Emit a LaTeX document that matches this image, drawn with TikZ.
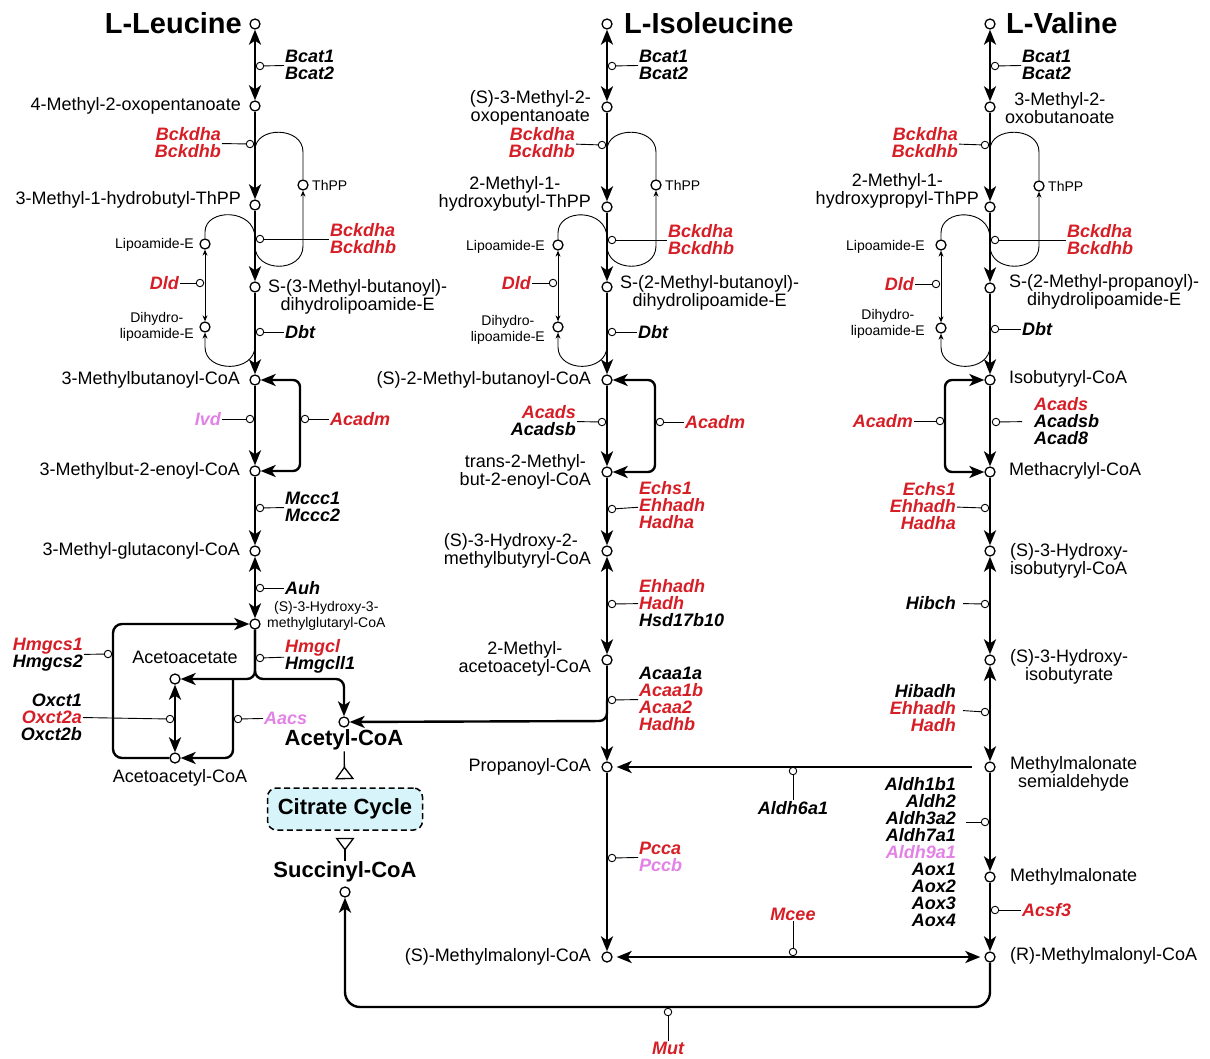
\documentclass[tikz,border=0pt]{standalone}
\usepackage{fontspec}
\setmainfont{Liberation Sans}
\usetikzlibrary{arrows.meta}
\definecolor{gred}{RGB}{214,30,38}
\definecolor{gpink}{RGB}{226,130,230}
\definecolor{cycfill}{RGB}{214,244,250}
\newcommand{\gr}[1]{\textcolor{gred}{#1}}
\newcommand{\gp}[1]{\textcolor{gpink}{#1}}
\begin{document}
\begin{tikzpicture}[x=1pt,y=-1pt,
  >={Stealth[length=15pt,width=12pt,inset=4pt]},
  met/.style={circle,draw,line width=1.3pt,minimum size=10pt,inner sep=0pt,fill=white},
  enz/.style={circle,draw,line width=0.9pt,minimum size=7.5pt,inner sep=0pt,fill=white},
  mtxt/.style={font=\fontsize{18}{17.5}\selectfont,inner sep=1pt},
  stxt/.style={font=\fontsize{14}{16}\selectfont,inner sep=1pt},
  gtxt/.style={font=\fontsize{18}{17}\selectfont\bfseries\itshape,inner sep=1pt},
  ttl/.style={font=\fontsize{29}{30}\selectfont\bfseries,inner sep=0pt},
  btxt/.style={font=\fontsize{22}{24}\selectfont\bfseries,inner sep=1pt},
  rx/.style={line width=2.4pt,->},
  rxx/.style={line width=2.4pt,<->},
  link/.style={line width=0.9pt},
  thinar/.style={line width=0.9pt,-{Stealth[length=6pt,width=5pt]}},
  thinarr/.style={line width=0.9pt,{Stealth[length=6pt,width=5pt]}-{Stealth[length=6pt,width=5pt]}},
  tri/.style={line width=1.3pt,-{Triangle[open,reversed,length=13pt,width=19pt]}},
]
\useasboundingbox (0,0) rectangle (1210,1059);

% ================= L-Leucine column =================
\node[met] (leu) at (255,24) {};
\node[ttl,anchor=east] (leuT) at (242,23) {L-Leucine};
\node[met] (l2) at (255,106) {};
\node[mtxt,anchor=east] (l2T) at (242,106) {4-Methyl-2-oxopentanoate};
\node[met] (l3) at (255,205) {};
\node[mtxt,anchor=east] (l3T) at (242,200) {3-Methyl-1-hydrobutyl-ThPP};
\node[met] (l4) at (255,287) {};
\node[mtxt,anchor=west,align=center] (l4T) at (267,297) {S-(3-Methyl-butanoyl)-\\dihydrolipoamide-E};
\node[met] (l5) at (255,380) {};
\node[mtxt,anchor=east] (l5T) at (241,380) {3-Methylbutanoyl-CoA};
\node[met] (l6) at (255,471) {};
\node[mtxt,anchor=east] (l6T) at (241,471) {3-Methylbut-2-enoyl-CoA};
\node[met] (l7) at (255,551) {};
\node[mtxt,anchor=east] (l7T) at (241,551) {3-Methyl-glutaconyl-CoA};
\node[met] (l8) at (255,624) {};
\node[stxt,anchor=west,align=center] (l8T) at (266,616) {(S)-3-Hydroxy-3-\\methylglutaryl-CoA};

\node[met] (lthpp) at (303,185) {};
\node[stxt,anchor=west] (lthppT) at (311,185) {ThPP};
\node[met] (llip) at (205,244) {};
\node[stxt,anchor=east] (llipT) at (195,245) {Lipoamide-E};
\node[met] (ldih) at (205,327) {};
\node[stxt,anchor=east,align=center] (ldihT) at (195,327) {Dihydro-\\lipoamide-E};

\coordinate (la1) at (255,150);
\coordinate (la2) at (255,246);
\coordinate (lb1) at (255,238);
\coordinate (lb2) at (255,346);
\draw[link] (la1) .. controls (255,126) and (303,126) .. (303,152) -- (lthpp);
\draw[thinar] (la2) .. controls (255,273) and (303,273) .. (303,246) -- (lthpp);
\draw[link] (lb1) .. controls (255,208) and (205,208) .. (205,232) -- (llip);
\draw[thinar] (lb2) .. controls (255,373) and (205,373) .. (205,347) -- (ldih);
\draw[thinarr] (llip) -- (ldih);

\draw[rxx] (leu) -- (l2);
\draw[rx] (l2) -- (l3);
\draw[rx] (l3) -- (l4);
\draw[rx] (l4) -- (l5);
\draw[rx] (l5) -- (l6);
\draw[rx] (l6) -- (l7);
\draw[rxx] (l7) -- (l8);
\draw[rxx,rounded corners=7pt] (l5) -- (300,380) -- (300,471) -- (l6);

\node[enz] (lbcat) at (260,66) {};
\node[gtxt,anchor=west,align=left] (lbcatT) at (284,65) {Bcat1\\Bcat2};
\draw[link] (lbcat) -- (lbcatT);
\node[enz] (lbk1) at (250,144) {};
\node[gtxt,anchor=east,align=right] (lbk1T) at (222,143) {\gr{Bckdha}\\\gr{Bckdhb}};
\draw[link] (lbk1) -- (lbk1T);
\node[enz] (lbk2) at (260,239) {};
\node[gtxt,anchor=west,align=left] (lbk2T) at (329,239) {\gr{Bckdha}\\\gr{Bckdhb}};
\draw[link] (lbk2) -- (lbk2T);
\node[enz] (ldld) at (200,283) {};
\node[gtxt,anchor=east] (ldldT) at (180,283) {\gr{Dld}};
\draw[link] (ldld) -- (ldldT);
\node[enz] (ldbt) at (260,332) {};
\node[gtxt,anchor=west] (ldbtT) at (284,332) {Dbt};
\draw[link] (ldbt) -- (ldbtT);
\node[enz] (livd) at (250,419) {};
\node[gtxt,anchor=east] (livdT) at (222,419) {\gp{Ivd}};
\draw[link] (livd) -- (livdT);
\node[enz] (lacadm) at (305,419) {};
\node[gtxt,anchor=west] (lacadmT) at (329,419) {\gr{Acadm}};
\draw[link] (lacadm) -- (lacadmT);
\node[enz] (lmccc) at (260,508) {};
\node[gtxt,anchor=west,align=left] (lmcccT) at (284,507) {Mccc1\\Mccc2};
\draw[link] (lmccc) -- (lmcccT);
\node[enz] (lauh) at (260,588) {};
\node[gtxt,anchor=west] (lauhT) at (284,588) {Auh};
\draw[link] (lauh) -- (lauhT);

% ketone body branch
\node[met] (aca) at (175,679) {};
\node[mtxt] (acaT) at (185,657) {Acetoacetate};
\node[met] (acac) at (175,758) {};
\node[mtxt] (acacT) at (180,778) {Acetoacetyl-CoA};
\node[met] (acoa) at (344,722) {};
\node[btxt] (acoaT) at (344,740) {Acetyl-CoA};

\coordinate (ljn) at (233,679);
\draw[rx,rounded corners=8pt] (l8) -- (255,679) -- (aca);
\draw[rx,rounded corners=8pt] (l8) -- (255,679) -- (344,679) -- (acoa);
\draw[rx,rounded corners=8pt] (ljn) -- (233,758) -- (acac);
\draw[rx,rounded corners=9pt] (acac) -- (113,758) -- (113,624) -- (l8);
\draw[rxx] (aca) -- (acac);

\node[enz] (lhmgcl) at (260,658) {};
\node[gtxt,anchor=west,align=left] (lhmgclT) at (284,656) {\gr{Hmgcl}\\Hmgcll1};
\draw[link] (lhmgcl) -- (lhmgclT);
\node[enz] (lhmgcs) at (108,654) {};
\node[gtxt,anchor=east,align=right] (lhmgcsT) at (84,655) {\gr{Hmgcs1}\\Hmgcs2};
\draw[link] (lhmgcs) -- (lhmgcsT);
\node[enz] (loxct) at (170,719) {};
\node[gtxt,anchor=east,align=right] (loxctT) at (83,717) {Oxct1\\\gr{Oxct2a}\\Oxct2b};
\draw[link] (loxct) -- (loxctT);
\node[enz] (laacs) at (238,719) {};
\node[gtxt,anchor=west] (laacsT) at (263,718) {\gp{Aacs}};
\draw[link] (laacs) -- (laacsT);

% citrate cycle
\node[draw,dashed,dash pattern=on 6pt off 3.5pt,line width=1.5pt,rounded corners=9pt,fill=cycfill,
      minimum width=155pt,minimum height=42pt,btxt] (cit) at (345,809) {Citrate Cycle};
\node[met] (suc) at (345,892) {};
\node[btxt] (sucT) at (345,872) {Succinyl-CoA};
\draw[tri,shorten >=8pt] (acoaT) -- (cit);
\draw[tri,shorten >=7pt] (sucT) -- (cit);

% ================= L-Isoleucine column =================
\node[met] (ile) at (607,24) {};
\node[ttl,anchor=west] (ileT) at (624,23) {L-Isoleucine};
\node[met] (i2) at (607,107) {};
\node[mtxt,anchor=east,align=center] (i2T) at (592,108) {(S)-3-Methyl-2-\\oxopentanoate};
\node[met] (i3) at (607,207) {};
\node[mtxt,anchor=east,align=center] (i3T) at (592,194) {2-Methyl-1-\\hydroxybutyl-ThPP};
\node[met] (i4) at (607,287) {};
\node[mtxt,anchor=west,align=center] (i4T) at (619,293) {S-(2-Methyl-butanoyl)-\\dihydrolipoamide-E};
\node[met] (i5) at (607,380) {};
\node[mtxt,anchor=east] (i5T) at (592,380) {(S)-2-Methyl-butanoyl-CoA};
\node[met] (i6) at (607,472) {};
\node[mtxt,anchor=east,align=center] (i6T) at (592,472) {trans-2-Methyl-\\but-2-enoyl-CoA};
\node[met] (i7) at (607,551) {};
\node[mtxt,anchor=east,align=left] (i7T) at (592,551) {(S)-3-Hydroxy-2-\\methylbutyryl-CoA};
\node[met] (i8) at (607,660) {};
\node[mtxt,anchor=east,align=center] (i8T) at (592,659) {2-Methyl-\\acetoacetyl-CoA};
\node[met] (i9) at (607,767) {};
\node[mtxt,anchor=east] (i9T) at (592,767) {Propanoyl-CoA};
\node[met] (i10) at (607,957) {};
\node[mtxt,anchor=east] (i10T) at (592,957) {(S)-Methylmalonyl-CoA};

\node[met] (ithpp) at (656,185) {};
\node[stxt,anchor=west] (ithppT) at (664,185) {ThPP};
\node[met] (ilip) at (558,245) {};
\node[stxt,anchor=east] (ilipT) at (546,247) {Lipoamide-E};
\node[met] (idih) at (558,327) {};
\node[stxt,anchor=east,align=center] (idihT) at (546,330) {Dihydro-\\lipoamide-E};

\coordinate (ia1) at (607,150);
\coordinate (ia2) at (607,246);
\coordinate (ib1) at (607,238);
\coordinate (ib2) at (607,346);
\draw[link] (ia1) .. controls (607,126) and (656,126) .. (656,152) -- (ithpp);
\draw[thinar] (ia2) .. controls (607,273) and (656,273) .. (656,246) -- (ithpp);
\draw[link] (ib1) .. controls (607,208) and (558,208) .. (558,233) -- (ilip);
\draw[thinar] (ib2) .. controls (607,373) and (558,373) .. (558,347) -- (idih);
\draw[thinarr] (ilip) -- (idih);

\draw[rxx] (ile) -- (i2);
\draw[rx] (i2) -- (i3);
\draw[rx] (i3) -- (i4);
\draw[rx] (i4) -- (i5);
\draw[rx] (i5) -- (i6);
\draw[rx] (i6) -- (i7);
\draw[rxx] (i7) -- (i8);
\draw[rx] (i8) -- (i9);
\draw[rx] (i9) -- (i10);
\draw[rxx,rounded corners=7pt] (i5) -- (655,380) -- (655,472) -- (i6);
\coordinate (ibr) at (607,700);
\draw[rx,rounded corners=8pt] (ibr) -- (607,721) -- (acoa);

\node[enz] (ibcat) at (612,66) {};
\node[gtxt,anchor=west,align=left] (ibcatT) at (638,65) {Bcat1\\Bcat2};
\draw[link] (ibcat) -- (ibcatT);
\node[enz] (ibk1) at (602,145) {};
\node[gtxt,anchor=east,align=right] (ibk1T) at (576,143) {\gr{Bckdha}\\\gr{Bckdhb}};
\draw[link] (ibk1) -- (ibk1T);
\node[enz] (ibk2) at (612,240) {};
\node[gtxt,anchor=west,align=left] (ibk2T) at (667,240) {\gr{Bckdha}\\\gr{Bckdhb}};
\draw[link] (ibk2) -- (ibk2T);
\node[enz] (idld) at (553,283) {};
\node[gtxt,anchor=east] (idldT) at (532,283) {\gr{Dld}};
\draw[link] (idld) -- (idldT);
\node[enz] (idbt) at (612,332) {};
\node[gtxt,anchor=west] (idbtT) at (637,332) {Dbt};
\draw[link] (idbt) -- (idbtT);
\node[enz] (iacads) at (602,422) {};
\node[gtxt,anchor=east,align=right] (iacadsT) at (577,421) {\gr{Acads}\\Acadsb};
\draw[link] (iacads) -- (iacadsT);
\node[enz] (iacadm) at (660,422) {};
\node[gtxt,anchor=west] (iacadmT) at (684,422) {\gr{Acadm}};
\draw[link] (iacadm) -- (iacadmT);
\node[enz] (iechs) at (612,509) {};
\node[gtxt,anchor=west,align=left] (iechsT) at (638,505) {\gr{Echs1}\\\gr{Ehhadh}\\\gr{Hadha}};
\draw[link] (iechs) -- (iechsT);
\node[enz] (iehh) at (612,604) {};
\node[gtxt,anchor=west,align=left] (iehhT) at (638,603) {\gr{Ehhadh}\\\gr{Hadh}\\Hsd17b10};
\draw[link] (iehh) -- (iehhT);
\node[enz] (iacaa) at (612,700) {};
\node[gtxt,anchor=west,align=left] (iacaaT) at (638,699) {Acaa1a\\\gr{Acaa1b}\\\gr{Acaa2}\\\gr{Hadhb}};
\draw[link] (iacaa) -- (iacaaT);
\node[enz] (ipcc) at (612,858) {};
\node[gtxt,anchor=west,align=left] (ipccT) at (638,857) {\gr{Pcca}\\\gp{Pccb}};
\draw[link] (ipcc) -- (ipccT);

% ================= L-Valine column =================
\node[met] (val) at (990,24) {};
\node[ttl,anchor=west] (valT) at (1006,23) {L-Valine};
\node[met] (v2) at (990,107) {};
\node[mtxt,anchor=west,align=center] (v2T) at (1004,108) {3-Methyl-2-\\oxobutanoate};
\node[met] (v3) at (990,207) {};
\node[mtxt,anchor=east,align=center] (v3T) at (980,191) {2-Methyl-1-\\hydroxypropyl-ThPP};
\node[met] (v4) at (990,288) {};
\node[mtxt,anchor=west,align=center] (v4T) at (1008,292) {S-(2-Methyl-propanoyl)-\\dihydrolipoamide-E};
\node[met] (v5) at (990,380) {};
\node[mtxt,anchor=west] (v5T) at (1008,379) {Isobutyryl-CoA};
\node[met] (v6) at (990,472) {};
\node[mtxt,anchor=west] (v6T) at (1008,471) {Methacrylyl-CoA};
\node[met] (v7) at (990,551) {};
\node[mtxt,anchor=west,align=left] (v7T) at (1009,561) {(S)-3-Hydroxy-\\isobutyryl-CoA};
\node[met] (v8) at (990,660) {};
\node[mtxt,anchor=west,align=center] (v8T) at (1009,667) {(S)-3-Hydroxy-\\isobutyrate};
\node[met] (v9) at (990,767) {};
\node[mtxt,anchor=west,align=center] (v9T) at (1009,774) {Methylmalonate\\semialdehyde};
\node[met] (v10) at (990,877) {};
\node[mtxt,anchor=west] (v10T) at (1009,877) {Methylmalonate};
\node[met] (v11) at (990,957) {};
\node[mtxt,anchor=west] (v11T) at (1009,956) {(R)-Methylmalonyl-CoA};

\node[met] (vthpp) at (1039,186) {};
\node[stxt,anchor=west] (vthppT) at (1047,186) {ThPP};
\node[met] (vlip) at (941,245) {};
\node[stxt,anchor=east] (vlipT) at (926,247) {Lipoamide-E};
\node[met] (vdih) at (941,328) {};
\node[stxt,anchor=east,align=center] (vdihT) at (926,324) {Dihydro-\\lipoamide-E};

\coordinate (va1) at (990,150);
\coordinate (va2) at (990,246);
\coordinate (vb1) at (990,238);
\coordinate (vb2) at (990,346);
\draw[link] (va1) .. controls (990,126) and (1039,126) .. (1039,152) -- (vthpp);
\draw[thinar] (va2) .. controls (990,273) and (1039,273) .. (1039,246) -- (vthpp);
\draw[link] (vb1) .. controls (990,208) and (941,208) .. (941,233) -- (vlip);
\draw[thinar] (vb2) .. controls (990,373) and (941,373) .. (941,347) -- (vdih);
\draw[thinarr] (vlip) -- (vdih);

\draw[rxx] (val) -- (v2);
\draw[rx] (v2) -- (v3);
\draw[rx] (v3) -- (v4);
\draw[rx] (v4) -- (v5);
\draw[rx] (v5) -- (v6);
\draw[rx] (v6) -- (v7);
\draw[rxx] (v7) -- (v8);
\draw[rxx] (v8) -- (v9);
\draw[rx] (v9) -- (v10);
\draw[rx] (v10) -- (v11);
\draw[rxx,rounded corners=7pt] (v5) -- (945,380) -- (945,472) -- (v6);

\node[enz] (vbcat) at (995,66) {};
\node[gtxt,anchor=west,align=left] (vbcatT) at (1021,65) {Bcat1\\Bcat2};
\draw[link] (vbcat) -- (vbcatT);
\node[enz] (vbk1) at (985,145) {};
\node[gtxt,anchor=east,align=right] (vbk1T) at (959,143) {\gr{Bckdha}\\\gr{Bckdhb}};
\draw[link] (vbk1) -- (vbk1T);
\node[enz] (vbk2) at (995,240) {};
\node[gtxt,anchor=west,align=left] (vbk2T) at (1066,240) {\gr{Bckdha}\\\gr{Bckdhb}};
\draw[link] (vbk2) -- (vbk2T);
\node[enz] (vdld) at (936,284) {};
\node[gtxt,anchor=east] (vdldT) at (915,284) {\gr{Dld}};
\draw[link] (vdld) -- (vdldT);
\node[enz] (vdbt) at (995,329) {};
\node[gtxt,anchor=west] (vdbtT) at (1021,329) {Dbt};
\draw[link] (vdbt) -- (vdbtT);
\node[enz] (vacadm) at (940,421) {};
\node[gtxt,anchor=east] (vacadmT) at (914,421) {\gr{Acadm}};
\draw[link] (vacadm) -- (vacadmT);
\node[enz] (vacads) at (996,422) {};
\node[gtxt,anchor=west,align=left] (vacadsT) at (1033,421) {\gr{Acads}\\Acadsb\\Acad8};
\draw[link,shorten >=11pt] (vacads) -- (vacadsT);
\node[enz] (vechs) at (985,508) {};
\node[gtxt,anchor=east,align=right] (vechsT) at (957,506) {\gr{Echs1}\\\gr{Ehhadh}\\\gr{Hadha}};
\draw[link] (vechs) -- (vechsT);
\node[enz] (vhibch) at (985,604) {};
\node[gtxt,anchor=east] (vhibchT) at (957,603) {Hibch};
\draw[link,shorten >=6pt] (vhibch) -- (vhibchT);
\node[enz] (vhibadh) at (985,712) {};
\node[gtxt,anchor=east,align=right] (vhibadhT) at (957,708) {Hibadh\\\gr{Ehhadh}\\\gr{Hadh}};
\draw[link,shorten >=6pt] (vhibadh) -- (vhibadhT);
\node[enz] (valdh) at (985,822) {};
\node[gtxt,anchor=east,align=right,font=\fontsize{18}{17.1}\selectfont\bfseries\itshape] (valdhT) at (957,852)
  {Aldh1b1\\Aldh2\\Aldh3a2\\Aldh7a1\\\gp{Aldh9a1}\\Aox1\\Aox2\\Aox3\\Aox4};
\draw[link,shorten >=9pt] (valdh) -- (valdhT.east |- valdh);
\node[enz] (vacsf) at (995,910) {};
\node[gtxt,anchor=west] (vacsfT) at (1021,910) {\gr{Acsf3}};
\draw[link] (vacsf) -- (vacsfT);

% ================= cross links =================
\draw[rx,shorten <=12pt,shorten >=4pt] (v9) -- (i9);
\node[enz] (ald6) at (793,771) {};
\node[gtxt] (ald6T) at (793,808) {Aldh6a1};
\draw[link] (ald6) -- (ald6T);

\draw[rxx,shorten <=4pt,shorten >=4pt] (i10) -- (v11);
\node[enz] (mcee) at (793,952) {};
\node[gtxt] (mceeT) at (793,914) {\gr{Mcee}};
\draw[link] (mcee) -- (mceeT);

\draw[rx,rounded corners=15pt] (v11) -- (990,1007) -- (345,1007) -- (suc);
\node[enz] (mut) at (668,1012) {};
\node[gtxt] (mutT) at (668,1048) {\gr{Mut}};
\draw[link] (mut) -- (mutT);

\end{tikzpicture}
\end{document}
